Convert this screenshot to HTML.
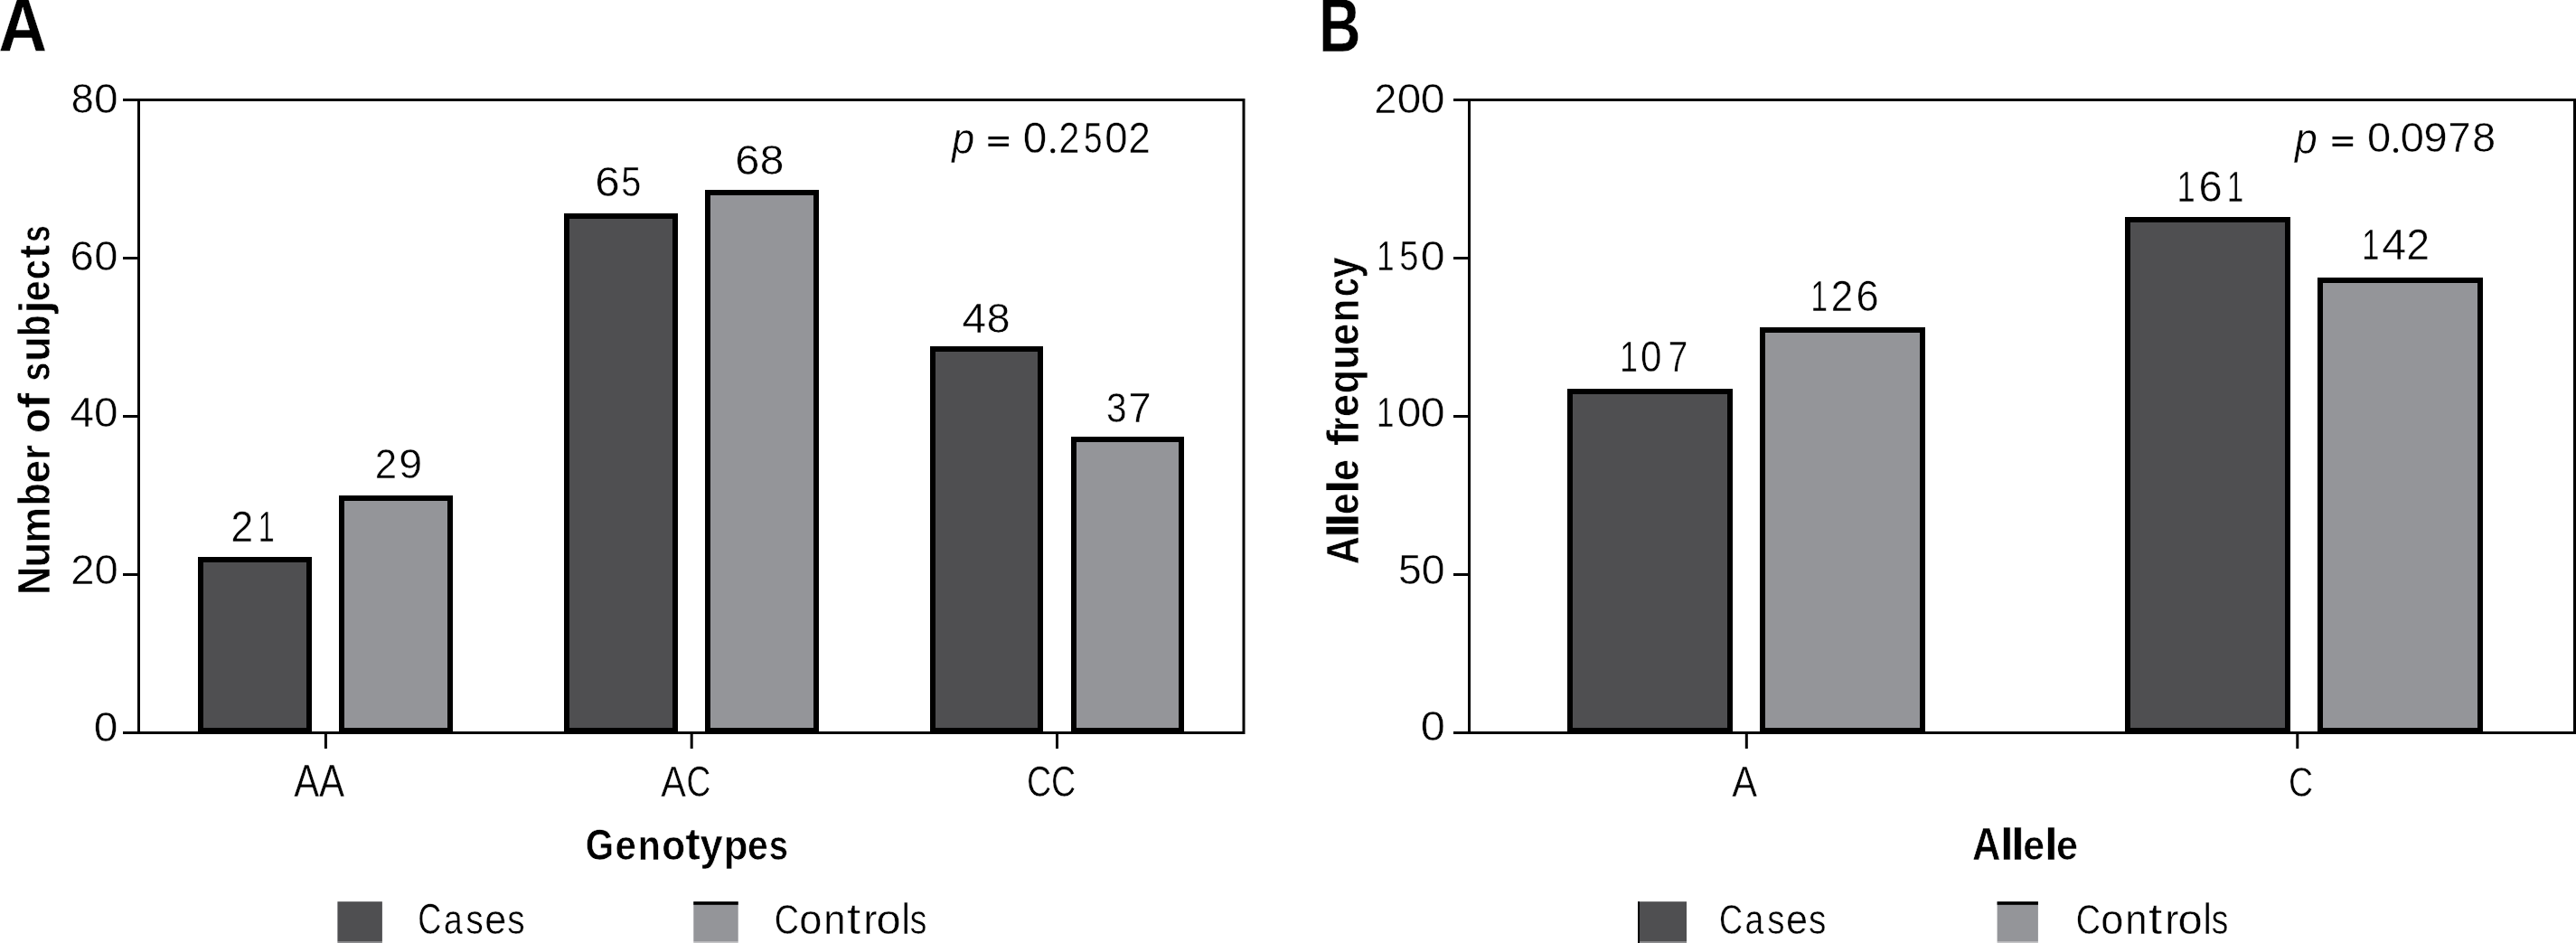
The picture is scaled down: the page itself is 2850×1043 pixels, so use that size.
<!DOCTYPE html><html><head><meta charset="utf-8"><style>html,body{margin:0;padding:0;background:#fff;overflow:hidden;}svg{display:block;}text{font-family:"Liberation Sans",sans-serif;fill:#000;}</style></head><body>
<svg width="2850" height="1043" viewBox="0 0 2850 1043">
<rect width="2850" height="1043" fill="#fff"/>
<rect x="222.0" y="619.0" width="120.0" height="189.0" fill="#4f4f51" stroke="#000" stroke-width="6"/>
<rect x="378.0" y="551.0" width="120.0" height="257.0" fill="#949599" stroke="#000" stroke-width="6"/>
<rect x="627.0" y="239.0" width="120.0" height="569.0" fill="#4f4f51" stroke="#000" stroke-width="6"/>
<rect x="783.0" y="213.0" width="120.0" height="595.0" fill="#949599" stroke="#000" stroke-width="6"/>
<rect x="1032.0" y="386.0" width="119.0" height="422.0" fill="#4f4f51" stroke="#000" stroke-width="6"/>
<rect x="1188.0" y="486.0" width="119.0" height="322.0" fill="#949599" stroke="#000" stroke-width="6"/>
<rect x="153.5" y="110.5" width="1222.5" height="700" fill="none" stroke="#000" stroke-width="3"/>
<line x1="136" y1="110.5" x2="153.5" y2="110.5" stroke="#000" stroke-width="3"/>
<line x1="136" y1="285.5" x2="153.5" y2="285.5" stroke="#000" stroke-width="3"/>
<line x1="136" y1="460.5" x2="153.5" y2="460.5" stroke="#000" stroke-width="3"/>
<line x1="136" y1="635.5" x2="153.5" y2="635.5" stroke="#000" stroke-width="3"/>
<line x1="136" y1="810.5" x2="153.5" y2="810.5" stroke="#000" stroke-width="3"/>
<line x1="360.4" y1="810.5" x2="360.4" y2="828" stroke="#000" stroke-width="3"/>
<line x1="765.2" y1="810.5" x2="765.2" y2="828" stroke="#000" stroke-width="3"/>
<line x1="1169.5" y1="810.5" x2="1169.5" y2="828" stroke="#000" stroke-width="3"/>
<rect x="1737.0" y="433.0" width="177.0" height="375.0" fill="#4f4f51" stroke="#000" stroke-width="6"/>
<rect x="1950.0" y="365.0" width="177.0" height="443.0" fill="#949599" stroke="#000" stroke-width="6"/>
<rect x="2354.0" y="243.0" width="177.0" height="565.0" fill="#4f4f51" stroke="#000" stroke-width="6"/>
<rect x="2567.0" y="310.0" width="177.0" height="498.0" fill="#949599" stroke="#000" stroke-width="6"/>
<rect x="1625.5" y="110.5" width="1223" height="700" fill="none" stroke="#000" stroke-width="3"/>
<line x1="1608" y1="110.5" x2="1625.5" y2="110.5" stroke="#000" stroke-width="3"/>
<line x1="1608" y1="285.5" x2="1625.5" y2="285.5" stroke="#000" stroke-width="3"/>
<line x1="1608" y1="460.5" x2="1625.5" y2="460.5" stroke="#000" stroke-width="3"/>
<line x1="1608" y1="635.5" x2="1625.5" y2="635.5" stroke="#000" stroke-width="3"/>
<line x1="1608" y1="810.5" x2="1625.5" y2="810.5" stroke="#000" stroke-width="3"/>
<line x1="1932.3" y1="810.5" x2="1932.3" y2="828" stroke="#000" stroke-width="3"/>
<line x1="2541.8" y1="810.5" x2="2541.8" y2="828" stroke="#000" stroke-width="3"/>
<rect x="1093.4" y="151.0" width="22.6" height="3.2" fill="#000"/>
<rect x="1093.4" y="158.7" width="22.6" height="3.2" fill="#000"/>
<rect x="2580.5" y="151.0" width="22.7" height="3.2" fill="#000"/>
<rect x="2580.5" y="158.7" width="22.7" height="3.2" fill="#000"/>
<circle cx="1164.8" cy="166.8" r="2.55" fill="#000"/>
<circle cx="2650.6" cy="166.2" r="2.55" fill="#000"/>
<rect x="373.4" y="997.2" width="49.5" height="44.5" fill="#4f4f51"/><rect x="373.4" y="1041.7" width="49.5" height="1.3" fill="#8c8c8e"/>
<rect x="767.3" y="997.2" width="49.4" height="44.5" fill="#949599"/><rect x="767.3" y="997.2" width="49.4" height="3.6" fill="#000"/><rect x="767.3" y="1041.7" width="49.4" height="1.3" fill="#c4c4c6"/>
<rect x="1812.0" y="997.2" width="54.0" height="44.5" fill="#4f4f51"/><rect x="1812.0" y="1041.7" width="54.0" height="1.3" fill="#8c8c8e"/><rect x="1812.0" y="997.2" width="2" height="45.8" fill="#000"/>
<rect x="2209.6" y="997.2" width="45.3" height="44.5" fill="#949599"/><rect x="2209.6" y="997.2" width="45.3" height="3.6" fill="#000"/><rect x="2209.6" y="1041.7" width="45.3" height="1.3" fill="#c4c4c6"/>
<g style="filter:grayscale(1)">
<text transform="translate(-1.67 57.35) scale(0.8870 1)" font-size="84.13" font-weight="bold" stroke="#fff" stroke-width="0.40" stroke-linejoin="round">A</text>
<text transform="translate(1459.34 57.00) scale(0.7646 1)" font-size="83.62" font-weight="bold" stroke="#fff" stroke-width="0.40" stroke-linejoin="round">B</text>
<text transform="translate(78.75 124.66) scale(0.9609 1)" font-size="46.83" stroke="#fff" stroke-width="0.45" stroke-linejoin="round">8</text>
<text transform="translate(103.96 124.66) scale(1.0227 1)" font-size="46.83" stroke="#fff" stroke-width="0.45" stroke-linejoin="round">0</text>
<text transform="translate(77.61 298.66) scale(1.0096 1)" font-size="46.83" stroke="#fff" stroke-width="0.45" stroke-linejoin="round">6</text>
<text transform="translate(104.19 298.66) scale(1.0047 1)" font-size="46.83" stroke="#fff" stroke-width="0.45" stroke-linejoin="round">0</text>
<text transform="translate(77.58 472.06) scale(1.0186 1)" font-size="46.83" stroke="#fff" stroke-width="0.45" stroke-linejoin="round">4</text>
<text transform="translate(103.97 472.06) scale(1.0182 1)" font-size="46.83" stroke="#fff" stroke-width="0.45" stroke-linejoin="round">0</text>
<text transform="translate(78.32 645.86) scale(1.0134 1)" font-size="46.55" stroke="#fff" stroke-width="0.45" stroke-linejoin="round">20</text>
<text transform="translate(103.76 819.56) scale(1.0258 1)" font-size="46.69" stroke="#fff" stroke-width="0.45" stroke-linejoin="round">0</text>
<text transform="translate(1520.55 124.66) scale(0.9503 1)" font-size="46.83" stroke="#fff" stroke-width="0.45" stroke-linejoin="round">2</text>
<text transform="translate(1545.87 124.66) scale(1.0182 1)" font-size="46.83" stroke="#fff" stroke-width="0.45" stroke-linejoin="round">0</text>
<text transform="translate(1571.85 124.66) scale(1.0272 1)" font-size="46.83" stroke="#fff" stroke-width="0.45" stroke-linejoin="round">0</text>
<text transform="translate(1523.37 298.76) scale(0.7424 1)" font-size="46.83" stroke="#fff" stroke-width="0.45" stroke-linejoin="round">1</text>
<text transform="translate(1548.35 298.76) scale(0.8159 1)" font-size="46.83" stroke="#fff" stroke-width="0.45" stroke-linejoin="round">5</text>
<text transform="translate(1571.84 298.76) scale(1.0317 1)" font-size="46.83" stroke="#fff" stroke-width="0.45" stroke-linejoin="round">0</text>
<text transform="translate(1523.05 471.96) scale(0.7496 1)" font-size="46.69" stroke="#fff" stroke-width="0.45" stroke-linejoin="round">1</text>
<text transform="translate(1545.76 471.96) scale(1.0258 1)" font-size="46.69" stroke="#fff" stroke-width="0.45" stroke-linejoin="round">0</text>
<text transform="translate(1571.74 471.96) scale(1.0348 1)" font-size="46.69" stroke="#fff" stroke-width="0.45" stroke-linejoin="round">0</text>
<text transform="translate(1546.92 645.67) scale(1.0158 1)" font-size="45.70" stroke="#fff" stroke-width="0.45" stroke-linejoin="round">50</text>
<text transform="translate(1571.73 819.27) scale(1.0664 1)" font-size="45.70" stroke="#fff" stroke-width="0.45" stroke-linejoin="round">0</text>
<text transform="translate(255.46 598.52) scale(0.9185 1)" font-size="48.21" stroke="#fff" stroke-width="0.45" stroke-linejoin="round">2</text>
<text transform="translate(285.76 598.52) scale(0.6680 1)" font-size="48.21" stroke="#fff" stroke-width="0.45" stroke-linejoin="round">1</text>
<text transform="translate(414.68 528.76) scale(0.9335 1)" font-size="46.97" stroke="#fff" stroke-width="0.45" stroke-linejoin="round">2</text>
<text transform="translate(441.18 528.76) scale(0.9912 1)" font-size="46.97" stroke="#fff" stroke-width="0.45" stroke-linejoin="round">9</text>
<text transform="translate(658.30 216.76) scale(1.0529 1)" font-size="46.97" stroke="#fff" stroke-width="0.45" stroke-linejoin="round">6</text>
<text transform="translate(687.29 216.76) scale(0.8449 1)" font-size="46.97" stroke="#fff" stroke-width="0.45" stroke-linejoin="round">5</text>
<text transform="translate(813.23 193.46) scale(1.0453 1)" font-size="46.69" stroke="#fff" stroke-width="0.45" stroke-linejoin="round">6</text>
<text transform="translate(840.63 193.46) scale(1.0230 1)" font-size="46.69" stroke="#fff" stroke-width="0.45" stroke-linejoin="round">8</text>
<text transform="translate(1064.58 367.86) scale(1.0290 1)" font-size="46.55" stroke="#fff" stroke-width="0.45" stroke-linejoin="round">4</text>
<text transform="translate(1091.69 367.86) scale(0.9941 1)" font-size="46.55" stroke="#fff" stroke-width="0.45" stroke-linejoin="round">8</text>
<text transform="translate(1223.95 466.66) scale(0.8655 1)" font-size="46.83" stroke="#fff" stroke-width="0.45" stroke-linejoin="round">3</text>
<text transform="translate(1248.62 466.66) scale(0.9644 1)" font-size="46.83" stroke="#fff" stroke-width="0.45" stroke-linejoin="round">7</text>
<text transform="translate(1792.13 411.45) scale(0.7390 1)" font-size="47.68" stroke="#fff" stroke-width="0.45" stroke-linejoin="round">1</text>
<text transform="translate(1815.09 411.45) scale(0.8854 1)" font-size="47.68" stroke="#fff" stroke-width="0.45" stroke-linejoin="round">0</text>
<text transform="translate(1845.85 411.45) scale(0.8090 1)" font-size="47.68" stroke="#fff" stroke-width="0.45" stroke-linejoin="round">7</text>
<text transform="translate(2003.49 344.15) scale(0.6972 1)" font-size="47.54" stroke="#fff" stroke-width="0.45" stroke-linejoin="round">1</text>
<text transform="translate(2025.78 344.15) scale(0.9224 1)" font-size="47.54" stroke="#fff" stroke-width="0.45" stroke-linejoin="round">2</text>
<text transform="translate(2053.41 344.15) scale(0.9535 1)" font-size="47.54" stroke="#fff" stroke-width="0.45" stroke-linejoin="round">6</text>
<text transform="translate(2408.55 223.25) scale(0.7611 1)" font-size="47.82" stroke="#fff" stroke-width="0.45" stroke-linejoin="round">1</text>
<text transform="translate(2432.62 223.25) scale(0.9843 1)" font-size="47.82" stroke="#fff" stroke-width="0.45" stroke-linejoin="round">6</text>
<text transform="translate(2463.92 223.25) scale(0.6833 1)" font-size="47.82" stroke="#fff" stroke-width="0.45" stroke-linejoin="round">1</text>
<text transform="translate(2613.18 286.83) scale(0.7121 1)" font-size="48.50" stroke="#fff" stroke-width="0.45" stroke-linejoin="round">1</text>
<text transform="translate(2635.36 286.83) scale(1.0000 1)" font-size="48.50" stroke="#fff" stroke-width="0.45" stroke-linejoin="round">4</text>
<text transform="translate(2662.58 286.83) scale(0.9448 1)" font-size="48.50" stroke="#fff" stroke-width="0.45" stroke-linejoin="round">2</text>
<text transform="translate(1053.30 169.68) scale(0.9186 1)" font-size="48.79" font-style="italic" stroke="#fff" stroke-width="0.45" stroke-linejoin="round">p</text>
<text transform="translate(1131.87 168.95) scale(1.0091 1)" font-size="47.25" stroke="#fff" stroke-width="0.45" stroke-linejoin="round">0</text>
<text transform="translate(1171.53 168.95) scale(0.8674 1)" font-size="47.25" stroke="#fff" stroke-width="0.45" stroke-linejoin="round">2</text>
<text transform="translate(1198.90 168.95) scale(0.7819 1)" font-size="47.25" stroke="#fff" stroke-width="0.45" stroke-linejoin="round">5</text>
<text transform="translate(1222.25 168.95) scale(0.9646 1)" font-size="47.25" stroke="#fff" stroke-width="0.45" stroke-linejoin="round">0</text>
<text transform="translate(1248.59 168.95) scale(0.9232 1)" font-size="47.25" stroke="#fff" stroke-width="0.45" stroke-linejoin="round">2</text>
<text transform="translate(2539.09 169.71) scale(0.9136 1)" font-size="48.66" font-style="italic" stroke="#fff" stroke-width="0.45" stroke-linejoin="round">p</text>
<text transform="translate(2618.89 168.17) scale(1.0263 1)" font-size="45.85" stroke="#fff" stroke-width="0.45" stroke-linejoin="round">0</text>
<text transform="translate(2655.69 168.17) scale(1.0263 1)" font-size="45.85" stroke="#fff" stroke-width="0.45" stroke-linejoin="round">0</text>
<text transform="translate(2681.56 168.17) scale(1.0250 1)" font-size="45.85" stroke="#fff" stroke-width="0.45" stroke-linejoin="round">9</text>
<text transform="translate(2708.53 168.17) scale(0.9804 1)" font-size="45.85" stroke="#fff" stroke-width="0.45" stroke-linejoin="round">7</text>
<text transform="translate(2735.18 168.17) scale(1.0141 1)" font-size="45.85" stroke="#fff" stroke-width="0.45" stroke-linejoin="round">8</text>
<text transform="translate(325.37 881.33) scale(0.8528 1)" font-size="49.12" stroke="#fff" stroke-width="0.45" stroke-linejoin="round">A</text>
<text transform="translate(353.06 881.33) scale(0.8590 1)" font-size="49.12" stroke="#fff" stroke-width="0.45" stroke-linejoin="round">A</text>
<text transform="translate(731.37 880.85) scale(0.8724 1)" font-size="47.68" stroke="#fff" stroke-width="0.45" stroke-linejoin="round">A</text>
<text transform="translate(759.41 880.85) scale(0.7807 1)" font-size="47.68" stroke="#fff" stroke-width="0.45" stroke-linejoin="round">C</text>
<text transform="translate(1135.99 880.85) scale(0.7954 1)" font-size="47.39" stroke="#fff" stroke-width="0.45" stroke-linejoin="round">C</text>
<text transform="translate(1162.99 880.85) scale(0.7954 1)" font-size="47.39" stroke="#fff" stroke-width="0.45" stroke-linejoin="round">C</text>
<text transform="translate(1916.37 881.02) scale(0.8600 1)" font-size="48.54" stroke="#fff" stroke-width="0.45" stroke-linejoin="round">A</text>
<text transform="translate(2532.10 880.75) scale(0.7968 1)" font-size="47.11" stroke="#fff" stroke-width="0.45" stroke-linejoin="round">C</text>
<text transform="translate(647.78 950.90) scale(0.8605 1.0334)" font-size="47.00" font-weight="bold" stroke="#fff" stroke-width="0.60" stroke-linejoin="round">G</text>
<text transform="translate(680.51 950.90) scale(0.8998 0.9968)" font-size="47.00" font-weight="bold" stroke="#fff" stroke-width="0.60" stroke-linejoin="round">e</text>
<text transform="translate(705.82 950.90) scale(0.8774 0.9968)" font-size="47.00" font-weight="bold" stroke="#fff" stroke-width="0.60" stroke-linejoin="round">n</text>
<text transform="translate(732.20 950.90) scale(0.9033 0.9968)" font-size="47.00" font-weight="bold" stroke="#fff" stroke-width="0.60" stroke-linejoin="round">o</text>
<text transform="translate(758.20 950.90) scale(1.0570 1.0540)" font-size="47.00" font-weight="bold" stroke="#fff" stroke-width="0.60" stroke-linejoin="round">t</text>
<text transform="translate(774.55 950.90) scale(0.9614 1.0253)" font-size="47.00" font-weight="bold" stroke="#fff" stroke-width="0.60" stroke-linejoin="round">y</text>
<text transform="translate(800.66 950.90) scale(0.9311 0.9968)" font-size="47.00" font-weight="bold" stroke="#fff" stroke-width="0.60" stroke-linejoin="round">p</text>
<text transform="translate(827.07 950.90) scale(0.8688 0.9968)" font-size="47.00" font-weight="bold" stroke="#fff" stroke-width="0.60" stroke-linejoin="round">e</text>
<text transform="translate(850.87 950.90) scale(0.8112 0.9968)" font-size="47.00" font-weight="bold" stroke="#fff" stroke-width="0.60" stroke-linejoin="round">s</text>
<text transform="translate(2182.01 951.00) scale(0.9273 1.0607)" font-size="47.00" font-weight="bold" stroke="#fff" stroke-width="0.60" stroke-linejoin="round">A</text>
<text transform="translate(2212.56 951.00) scale(1.1978 1.0594)" font-size="47.00" font-weight="bold" stroke="#fff" stroke-width="0.60" stroke-linejoin="round">l</text>
<text transform="translate(2224.81 951.00) scale(1.1820 1.0594)" font-size="47.00" font-weight="bold" stroke="#fff" stroke-width="0.60" stroke-linejoin="round">l</text>
<text transform="translate(2238.18 951.00) scale(0.9131 0.9968)" font-size="47.00" font-weight="bold" stroke="#fff" stroke-width="0.60" stroke-linejoin="round">e</text>
<text transform="translate(2261.56 951.00) scale(1.1978 1.0594)" font-size="47.00" font-weight="bold" stroke="#fff" stroke-width="0.60" stroke-linejoin="round">l</text>
<text transform="translate(2274.88 951.00) scale(0.9176 0.9968)" font-size="47.00" font-weight="bold" stroke="#fff" stroke-width="0.60" stroke-linejoin="round">e</text>
<text transform="translate(55.10 657.91) rotate(-90) scale(0.8820 1.0056)" font-size="49.00" font-weight="bold" stroke="#fff" stroke-width="0.60" stroke-linejoin="round">N</text>
<text transform="translate(55.10 627.66) rotate(-90) scale(0.9384 0.9665)" font-size="49.00" font-weight="bold" stroke="#fff" stroke-width="0.60" stroke-linejoin="round">u</text>
<text transform="translate(55.10 600.81) rotate(-90) scale(0.9130 0.9486)" font-size="49.00" font-weight="bold" stroke="#fff" stroke-width="0.60" stroke-linejoin="round">m</text>
<text transform="translate(55.10 559.16) rotate(-90) scale(0.8365 1.0190)" font-size="49.00" font-weight="bold" stroke="#fff" stroke-width="0.60" stroke-linejoin="round">b</text>
<text transform="translate(55.10 534.54) rotate(-90) scale(0.9396 0.9486)" font-size="49.00" font-weight="bold" stroke="#fff" stroke-width="0.60" stroke-linejoin="round">e</text>
<text transform="translate(55.10 508.77) rotate(-90) scale(0.8690 0.9486)" font-size="49.00" font-weight="bold" stroke="#fff" stroke-width="0.60" stroke-linejoin="round">r</text>
<text transform="translate(55.10 478.88) rotate(-90) scale(0.9087 0.9486)" font-size="49.00" font-weight="bold" stroke="#fff" stroke-width="0.60" stroke-linejoin="round">o</text>
<text transform="translate(55.10 451.86) rotate(-90) scale(1.0332 1.0190)" font-size="49.00" font-weight="bold" stroke="#fff" stroke-width="0.60" stroke-linejoin="round">f</text>
<text transform="translate(55.10 421.61) rotate(-90) scale(0.7611 0.9486)" font-size="49.00" font-weight="bold" stroke="#fff" stroke-width="0.60" stroke-linejoin="round">s</text>
<text transform="translate(55.10 399.96) rotate(-90) scale(0.9384 0.9665)" font-size="49.00" font-weight="bold" stroke="#fff" stroke-width="0.60" stroke-linejoin="round">u</text>
<text transform="translate(55.10 372.11) rotate(-90) scale(0.7880 1.0190)" font-size="49.00" font-weight="bold" stroke="#fff" stroke-width="0.60" stroke-linejoin="round">b</text>
<text transform="translate(55.10 346.54) rotate(-90) scale(1.0297 0.9683)" font-size="49.00" font-weight="bold" stroke="#fff" stroke-width="0.60" stroke-linejoin="round">j</text>
<text transform="translate(55.10 333.15) rotate(-90) scale(0.8418 0.9486)" font-size="49.00" font-weight="bold" stroke="#fff" stroke-width="0.60" stroke-linejoin="round">e</text>
<text transform="translate(55.10 309.18) rotate(-90) scale(0.8079 0.9486)" font-size="49.00" font-weight="bold" stroke="#fff" stroke-width="0.60" stroke-linejoin="round">c</text>
<text transform="translate(55.10 285.55) rotate(-90) scale(0.9151 0.9765)" font-size="49.00" font-weight="bold" stroke="#fff" stroke-width="0.60" stroke-linejoin="round">t</text>
<text transform="translate(55.10 267.65) rotate(-90) scale(0.6718 0.9486)" font-size="49.00" font-weight="bold" stroke="#fff" stroke-width="0.60" stroke-linejoin="round">s</text>
<text transform="translate(1503.30 624.27) rotate(-90) scale(0.8772 1.0352)" font-size="49.00" font-weight="bold" stroke="#fff" stroke-width="0.60" stroke-linejoin="round">A</text>
<text transform="translate(1503.30 595.86) rotate(-90) scale(1.3303 1.0190)" font-size="49.00" font-weight="bold" stroke="#fff" stroke-width="0.60" stroke-linejoin="round">l</text>
<text transform="translate(1503.30 583.70) rotate(-90) scale(1.2547 1.0190)" font-size="49.00" font-weight="bold" stroke="#fff" stroke-width="0.60" stroke-linejoin="round">l</text>
<text transform="translate(1503.30 569.22) rotate(-90) scale(0.8759 0.9751)" font-size="49.00" font-weight="bold" stroke="#fff" stroke-width="0.60" stroke-linejoin="round">e</text>
<text transform="translate(1503.30 546.50) rotate(-90) scale(1.2245 1.0190)" font-size="49.00" font-weight="bold" stroke="#fff" stroke-width="0.60" stroke-linejoin="round">l</text>
<text transform="translate(1503.30 532.12) rotate(-90) scale(0.8801 0.9751)" font-size="49.00" font-weight="bold" stroke="#fff" stroke-width="0.60" stroke-linejoin="round">e</text>
<text transform="translate(1503.30 493.20) rotate(-90) scale(1.0842 1.0190)" font-size="49.00" font-weight="bold" stroke="#fff" stroke-width="0.60" stroke-linejoin="round">f</text>
<text transform="translate(1503.30 476.88) rotate(-90) scale(0.8097 0.9751)" font-size="49.00" font-weight="bold" stroke="#fff" stroke-width="0.60" stroke-linejoin="round">r</text>
<text transform="translate(1503.30 460.90) rotate(-90) scale(0.9184 0.9751)" font-size="49.00" font-weight="bold" stroke="#fff" stroke-width="0.60" stroke-linejoin="round">e</text>
<text transform="translate(1503.30 435.21) rotate(-90) scale(0.8729 0.9751)" font-size="49.00" font-weight="bold" stroke="#fff" stroke-width="0.60" stroke-linejoin="round">q</text>
<text transform="translate(1503.30 408.71) rotate(-90) scale(0.9215 0.9935)" font-size="49.00" font-weight="bold" stroke="#fff" stroke-width="0.60" stroke-linejoin="round">u</text>
<text transform="translate(1503.30 381.95) rotate(-90) scale(0.8929 0.9751)" font-size="49.00" font-weight="bold" stroke="#fff" stroke-width="0.60" stroke-linejoin="round">e</text>
<text transform="translate(1503.30 356.23) rotate(-90) scale(0.8584 0.9751)" font-size="49.00" font-weight="bold" stroke="#fff" stroke-width="0.60" stroke-linejoin="round">n</text>
<text transform="translate(1503.30 328.22) rotate(-90) scale(0.7742 0.9751)" font-size="49.00" font-weight="bold" stroke="#fff" stroke-width="0.60" stroke-linejoin="round">c</text>
<text transform="translate(1503.30 307.41) rotate(-90) scale(0.8390 1.0029)" font-size="49.00" font-weight="bold" stroke="#fff" stroke-width="0.60" stroke-linejoin="round">y</text>
<text transform="translate(462.37 1032.82) scale(0.7683 1.0076)" font-size="47.00" stroke="#fff" stroke-width="0.45" stroke-linejoin="round">C</text>
<text transform="translate(490.89 1032.82) scale(0.7947 0.9752)" font-size="47.00" stroke="#fff" stroke-width="0.45" stroke-linejoin="round">a</text>
<text transform="translate(515.62 1032.82) scale(0.8193 0.9843)" font-size="47.00" stroke="#fff" stroke-width="0.45" stroke-linejoin="round">s</text>
<text transform="translate(536.23 1032.82) scale(0.9174 0.9752)" font-size="47.00" stroke="#fff" stroke-width="0.45" stroke-linejoin="round">e</text>
<text transform="translate(561.21 1032.82) scale(0.8242 0.9843)" font-size="47.00" stroke="#fff" stroke-width="0.45" stroke-linejoin="round">s</text>
<text transform="translate(856.79 1032.62) scale(0.8021 1.0015)" font-size="47.00" stroke="#fff" stroke-width="0.45" stroke-linejoin="round">C</text>
<text transform="translate(884.17 1032.62) scale(0.9608 0.9831)" font-size="47.00" stroke="#fff" stroke-width="0.45" stroke-linejoin="round">o</text>
<text transform="translate(911.14 1032.62) scale(0.9287 0.9831)" font-size="47.00" stroke="#fff" stroke-width="0.45" stroke-linejoin="round">n</text>
<text transform="translate(936.95 1032.62) scale(1.1640 1.0407)" font-size="47.00" stroke="#fff" stroke-width="0.45" stroke-linejoin="round">t</text>
<text transform="translate(955.30 1032.62) scale(0.9745 0.9831)" font-size="47.00" stroke="#fff" stroke-width="0.45" stroke-linejoin="round">r</text>
<text transform="translate(969.62 1032.62) scale(1.0414 0.9831)" font-size="47.00" stroke="#fff" stroke-width="0.45" stroke-linejoin="round">o</text>
<text transform="translate(997.32 1032.62) scale(0.9338 1.0198)" font-size="47.00" stroke="#fff" stroke-width="0.45" stroke-linejoin="round">l</text>
<text transform="translate(1006.66 1032.62) scale(0.7899 0.9922)" font-size="47.00" stroke="#fff" stroke-width="0.45" stroke-linejoin="round">s</text>
<text transform="translate(1902.07 1032.62) scale(0.7683 1.0015)" font-size="47.00" stroke="#fff" stroke-width="0.45" stroke-linejoin="round">C</text>
<text transform="translate(1930.59 1032.62) scale(0.7947 0.9673)" font-size="47.00" stroke="#fff" stroke-width="0.45" stroke-linejoin="round">a</text>
<text transform="translate(1955.32 1032.62) scale(0.8193 0.9763)" font-size="47.00" stroke="#fff" stroke-width="0.45" stroke-linejoin="round">s</text>
<text transform="translate(1975.93 1032.62) scale(0.9174 0.9673)" font-size="47.00" stroke="#fff" stroke-width="0.45" stroke-linejoin="round">e</text>
<text transform="translate(2000.91 1032.62) scale(0.8242 0.9763)" font-size="47.00" stroke="#fff" stroke-width="0.45" stroke-linejoin="round">s</text>
<text transform="translate(2296.79 1032.62) scale(0.8021 1.0015)" font-size="47.00" stroke="#fff" stroke-width="0.45" stroke-linejoin="round">C</text>
<text transform="translate(2324.17 1032.62) scale(0.9608 0.9831)" font-size="47.00" stroke="#fff" stroke-width="0.45" stroke-linejoin="round">o</text>
<text transform="translate(2351.14 1032.62) scale(0.9287 0.9831)" font-size="47.00" stroke="#fff" stroke-width="0.45" stroke-linejoin="round">n</text>
<text transform="translate(2376.95 1032.62) scale(1.1640 1.0407)" font-size="47.00" stroke="#fff" stroke-width="0.45" stroke-linejoin="round">t</text>
<text transform="translate(2395.30 1032.62) scale(0.9745 0.9831)" font-size="47.00" stroke="#fff" stroke-width="0.45" stroke-linejoin="round">r</text>
<text transform="translate(2409.62 1032.62) scale(1.0414 0.9831)" font-size="47.00" stroke="#fff" stroke-width="0.45" stroke-linejoin="round">o</text>
<text transform="translate(2437.32 1032.62) scale(0.9338 1.0198)" font-size="47.00" stroke="#fff" stroke-width="0.45" stroke-linejoin="round">l</text>
<text transform="translate(2446.66 1032.62) scale(0.7899 0.9922)" font-size="47.00" stroke="#fff" stroke-width="0.45" stroke-linejoin="round">s</text>
</g>
</svg></body></html>
